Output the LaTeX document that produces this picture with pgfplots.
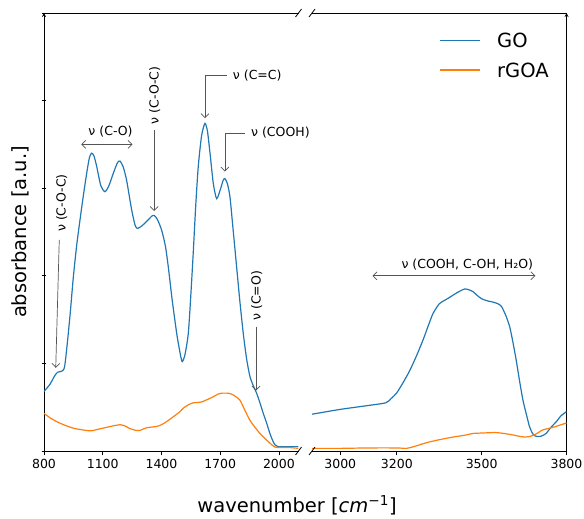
\documentclass[border=0pt]{standalone}
\usepackage{fontspec}
\setmainfont{DejaVu Sans}
\usepackage{pgfplots}
\pgfplotsset{compat=1.18}
\usetikzlibrary{arrows.meta}
\definecolor{goblue}{HTML}{1F77B4}
\definecolor{rgoaorange}{HTML}{FF7F0E}
\definecolor{anngray}{HTML}{555555}

\tikzset{
  ann/.style={anngray, line width=0.7pt},
  anntext/.style={font=\fontsize{12.5}{15}\selectfont, inner sep=1pt},
  legtext/.style={font=\fontsize{19.5}{23}\selectfont, inner sep=0pt, anchor=west},
}
\pgfplotsset{
  go/.style={color=goblue, line width=1.2pt, smooth, tension=0.4},
  rgoa/.style={color=rgoaorange, line width=1.2pt, smooth, tension=0.4},
  ftirpanel/.style={
    scale only axis, width=254.5pt, height=438pt,
    ymin=0, ymax=5,
    axis x line=box,
    axis line style={-, line width=0.8pt},
    xtick pos=left, tick align=outside,
    major tick length=4.5pt,
    every tick/.style={black, line width=0.8pt},
    ticklabel style={font=\fontsize{12.5}{15}\selectfont},
    /pgf/number format/assume math mode=true,
    /pgf/number format/1000 sep={},
    clip=false,
  },
}

\begin{document}
\begin{tikzpicture}
\useasboundingbox (0pt,0pt) rectangle (584pt,519pt);

% left panel 800-2100
\begin{axis}[ftirpanel, at={(44pt,68pt)}, anchor=south west,
  xmin=800, xmax=2100, xtick={800,1100,1400,1700,2000},
  axis y line=left, ytick={0,1,2,3,4,5}, yticklabel=\empty, ytick pos=left]
\addplot[go] coordinates {
(800,0.68)(830,0.76)(855,0.86)(870,0.90)(890,0.91)(905,0.96)(920,1.25)
(935,1.60)(950,1.99)(967,2.35)(984,2.64)(1000,2.90)(1018,3.17)(1032,3.35)
(1043,3.40)(1055,3.37)(1069,3.25)(1090,3.03)(1111,2.96)(1130,3.02)
(1154,3.17)(1175,3.29)(1188,3.31)(1205,3.24)(1222,3.09)(1248,2.75)
(1265,2.58)(1277,2.54)(1300,2.57)(1324,2.62)(1350,2.68)(1363,2.69)
(1380,2.64)(1401,2.52)(1420,2.34)(1435,2.10)(1455,1.72)(1478,1.34)
(1495,1.12)(1506,1.02)(1520,1.10)(1537,1.34)(1550,1.78)(1563,2.29)
(1575,2.80)(1588,3.25)(1605,3.60)(1622,3.74)(1635,3.65)(1648,3.40)
(1665,3.05)(1682,2.88)(1700,2.98)(1715,3.09)(1724,3.11)(1737,3.05)
(1750,2.90)(1765,2.55)(1784,2.10)(1800,1.72)(1818,1.34)(1835,1.05)
(1852,0.85)(1870,0.74)(1886,0.66)(1903,0.55)(1920,0.43)(1937,0.32)
(1954,0.20)(1968,0.12)(1980,0.07)(1995,0.05)(2040,0.05)(2099,0.05)
};
\addplot[rgoa] coordinates {
(800,0.43)(830,0.38)(865,0.335)(900,0.30)(950,0.26)(1000,0.24)(1040,0.23)
(1080,0.25)(1120,0.27)(1160,0.29)(1190,0.30)(1210,0.29)(1240,0.255)
(1270,0.235)(1290,0.235)(1324,0.265)(1375,0.28)(1400,0.30)(1426,0.335)
(1460,0.39)(1495,0.45)(1512,0.49)(1540,0.53)(1563,0.55)(1605,0.56)
(1656,0.61)(1690,0.65)(1707,0.66)(1740,0.66)(1758,0.65)(1780,0.62)
(1801,0.58)(1825,0.47)(1852,0.35)(1878,0.27)(1903,0.20)(1930,0.14)
(1954,0.09)(1975,0.05)(1995,0.04)(2050,0.04)(2099,0.03)
};
% band annotations
\node[anntext, rotate=90] at (axis cs:890,2.83) {ν (C-O-C)};
\draw[ann, -{Straight Barb[length=4pt]}] (axis cs:878,2.41) -- (axis cs:860,0.95);
\node[anntext] at (axis cs:1140,3.645) {ν (C-O)};
\draw[ann, {Straight Barb[length=4pt]}-{Straight Barb[length=4pt]}] (axis cs:990,3.50) -- (axis cs:1252,3.50);
\node[anntext, rotate=90] at (axis cs:1365,4.06) {ν (C-O-C)};
\draw[ann, -{Straight Barb[length=4pt]}] (axis cs:1363,3.66) -- (axis cs:1363,2.74);
\node[anntext, anchor=west] at (axis cs:1759,4.29) {ν (C=C)};
\draw[ann, -{Straight Barb[length=4pt]}] (axis cs:1733,4.29) -- (axis cs:1622,4.29) -- (axis cs:1622,3.80);
\node[anntext, anchor=west] at (axis cs:1852,3.63) {ν (COOH)};
\draw[ann, -{Straight Barb[length=4pt]}] (axis cs:1827,3.63) -- (axis cs:1724,3.63) -- (axis cs:1724,3.19);
\node[anntext, rotate=90] at (axis cs:1886,1.77) {ν (C=O)};
\draw[ann, -{Straight Barb[length=4pt]}] (axis cs:1883,1.42) -- (axis cs:1883,0.69);
% break marks
\draw[line width=0.8pt] ([shift={(-3pt,-4pt)}]rel axis cs:1,0) -- ([shift={(3pt,4pt)}]rel axis cs:1,0);
\draw[line width=0.8pt] ([shift={(-3pt,-4pt)}]rel axis cs:1,1) -- ([shift={(3pt,4pt)}]rel axis cs:1,1);
\end{axis}

% right panel 2900-3800
\begin{axis}[ftirpanel, at={(312pt,68pt)}, anchor=south west,
  xmin=2900, xmax=3800, xtick={3000,3200,3500,3800},
  axis y line=right, ytick=\empty]
\addplot[go] coordinates {
(2900,0.42)(3000,0.475)(3100,0.52)(3161,0.55)(3180,0.60)(3199,0.66)
(3222,0.78)(3246,0.92)(3270,1.09)(3293,1.27)(3310,1.42)(3328,1.57)
(3350,1.68)(3369,1.72)(3385,1.75)(3399,1.78)(3420,1.82)(3440,1.85)
(3455,1.84)(3469,1.82)(3490,1.76)(3505,1.73)(3525,1.71)(3540,1.70)
(3558,1.68)(3570,1.65)(3585,1.55)(3599,1.42)(3610,1.25)(3622,1.04)
(3634,0.80)(3646,0.58)(3658,0.42)(3669,0.28)(3680,0.20)(3690,0.17)
(3705,0.165)(3718,0.18)(3728,0.20)(3745,0.27)(3764,0.335)(3780,0.40)
(3800,0.45)
};
\addplot[rgoa] coordinates {
(2900,0.03)(3000,0.03)(3100,0.035)(3200,0.035)(3234,0.03)(3260,0.05)
(3305,0.095)(3352,0.13)(3400,0.16)(3440,0.18)(3469,0.20)(3500,0.205)
(3552,0.21)(3599,0.19)(3630,0.17)(3650,0.16)(3670,0.165)(3690,0.19)
(3716,0.24)(3752,0.27)(3800,0.32)
};
\node[anntext] at (axis cs:3449,2.13) {ν (COOH, C-OH, H₂O)};
\draw[ann, {Straight Barb[length=4pt]}-{Straight Barb[length=4pt]}] (axis cs:3114,2.0) -- (axis cs:3690,2.0);
% legend
\draw[goblue, line width=1.2pt] (rel axis cs:0.503,0.938) -- ++(40pt,0pt);
\node[legtext] at (rel axis cs:0.727,0.938) {GO};
\draw[rgoaorange, line width=1.2pt] (rel axis cs:0.503,0.870) -- ++(40pt,0pt);
\node[legtext] at (rel axis cs:0.727,0.870) {rGOA};
% break marks
\draw[line width=0.8pt] ([shift={(-3pt,-4pt)}]rel axis cs:0,0) -- ([shift={(3pt,4pt)}]rel axis cs:0,0);
\draw[line width=0.8pt] ([shift={(-3pt,-4pt)}]rel axis cs:0,1) -- ([shift={(3pt,4pt)}]rel axis cs:0,1);
\end{axis}

\node[font=\fontsize{19.5}{23}\selectfont, anchor=base] at (297pt,6pt) {wavenumber [\textit{cm}\textsuperscript{−1}]};
\node[font=\fontsize{19.5}{23}\selectfont, anchor=base, rotate=90] at (26.5pt,287pt) {absorbance [a.u.]};
\end{tikzpicture}
\end{document}
